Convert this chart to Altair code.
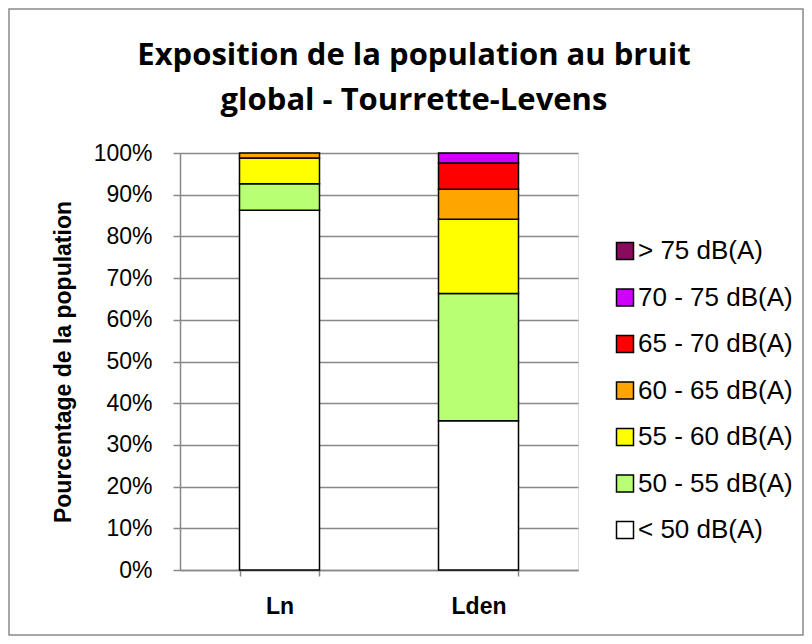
import altair as alt
import pandas as pd

categories = ["Ln", "Lden"]
classes = ["< 50 dB(A)", "50 - 55 dB(A)", "55 - 60 dB(A)", "60 - 65 dB(A)",
           "65 - 70 dB(A)", "70 - 75 dB(A)", "> 75 dB(A)"]
ln_values = [86.3, 6.3, 6.2, 1.2, 0, 0, 0]
lden_values = [35.8, 30.5, 17.8, 7.2, 6.3, 2.4, 0]
colors = ["#FFFFFF", "#B9FF73", "#FFFF00", "#FFA500", "#FF0000", "#D000FF", "#8A0A5C"]
y_ticks = [0, 10, 20, 30, 40, 50, 60, 70, 80, 90, 100]
title_lines = ["Exposition de la population au bruit", "global - Tourrette-Levens"]

rows = []
for cat, vals in (("Ln", ln_values), ("Lden", lden_values)):
    for i, (c, v) in enumerate(zip(classes, vals)):
        if v > 0:
            rows.append({"indicateur": cat, "classe": c, "ordre": i, "part": v})
df = pd.DataFrame(rows)

PAD_L, PAD_T, W, H = 172, 145, 398, 417
TOTAL_W, TOTAL_H = 796, 628

bars = alt.Chart(df).mark_bar(stroke="black", strokeWidth=1.5).encode(
    x=alt.X("indicateur:N", sort=categories,
            scale=alt.Scale(paddingInner=0.598, paddingOuter=0.299),
            axis=alt.Axis(title=None, labelAngle=0, labelFont="Liberation Sans",
                          labelFontWeight="bold", labelFontSize=23, labelColor="black",
                          labelPadding=19, tickBand="extent", tickSize=6,
                          tickColor="#888888", tickWidth=1.5,
                          domainColor="#888888", domainWidth=1.5)),
    y=alt.Y("part:Q", stack="zero", scale=alt.Scale(domain=[0, 100], nice=False),
            axis=alt.Axis(values=y_ticks, labelExpr="datum.value + '%'",
                          title="Pourcentage de la population",
                          titleFont="Liberation Sans", titleFontSize=23,
                          titleFontWeight="bold", titleColor="black", titlePadding=18,
                          labelFont="Liberation Sans", labelFontSize=23,
                          labelColor="black", labelPadding=21,
                          tickSize=7, tickColor="#888888", tickWidth=1.5,
                          domainColor="#888888", domainWidth=1.5,
                          grid=True, gridColor="#888888", gridWidth=1.5)),
    color=alt.Color("classe:N",
                    scale=alt.Scale(domain=classes[::-1], range=colors[::-1]),
                    legend=alt.Legend(title=None, orient="none", legendX=432, legendY=85,
                                      symbolType="square", symbolSize=289,
                                      symbolStrokeColor="black", symbolStrokeWidth=1.5,
                                      labelFont="Liberation Sans", labelFontSize=26,
                                      labelColor="black", labelOffset=0,
                                      rowPadding=20.5, labelLimit=300)),
    order=alt.Order("ordre:Q", sort="ascending"),
)

frame = alt.Chart(alt.Data(values=[{}])).mark_rect(
    fill=None, stroke="#8a8a8a", strokeWidth=1.5, clip=False
).encode(
    x=alt.value(-PAD_L + 1), x2=alt.value(TOTAL_W - PAD_L - 1),
    y=alt.value(-PAD_T + 1), y2=alt.value(TOTAL_H - PAD_T - 1),
)

title_layers = [
    alt.Chart(alt.Data(values=[{}])).mark_text(
        font="Open Sans", fontSize=31, fontWeight="bold", color="black",
        align="center", baseline="alphabetic", clip=False
    ).encode(text=alt.value(line), x=alt.value(234), y=alt.value(yy))
    for line, yy in zip(title_lines, [-88, -43])
]

chart = alt.layer(frame, bars, *title_layers).properties(
    width=W, height=H,
    autosize=alt.AutoSizeParams(type="none"),
    padding={"left": PAD_L, "top": PAD_T,
             "right": TOTAL_W - PAD_L - W, "bottom": TOTAL_H - PAD_T - H},
).configure_view(stroke=None).configure(background="white")

chart.save("out.html", embed_options={"renderer": "svg", "actions": False})
